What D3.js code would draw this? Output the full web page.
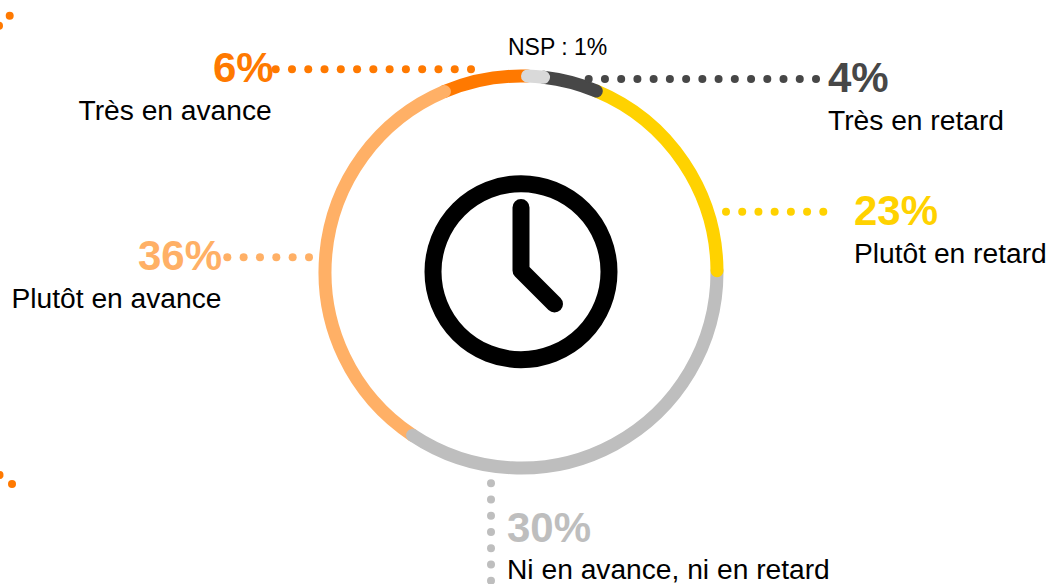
<!DOCTYPE html>
<html><head><meta charset="utf-8">
<script src="https://cdn.jsdelivr.net/npm/d3@7/dist/d3.min.js"></script>
<style>html,body{margin:0;padding:0;background:#fff;overflow:hidden}svg{display:block}text{font-family:"Liberation Sans",Arial,sans-serif}</style>
</head><body><svg id="c" width="1047" height="584"></svg>
<script>
const categories=["Très en avance","NSP","Très en retard","Plutôt en retard","Ni en avance, ni en retard","Plutôt en avance"];
const labelValues=[6,1,4,23,30,36];
const ringSpans=[24.9,4.7,16,67,124,123.4]; // ring span, degrees
const colors=["#FF7900","#D9D9D9","#474747","#FFD200","#BEBEBE","#FFB066"];
const drawOrder=[0,5,4,3,2,1];
const ringStart=-23;
const labelPos=[
 {vx:213,vy:82,lx:78.5,ly:120},null,
 {vx:828,vy:92,lx:828,ly:130},
 {vx:854,vy:225,lx:854,ly:263},
 {vx:507,vy:542,lx:507,ly:579},
 {vx:138,vy:270,lx:11.5,ly:308}];
const leaders=[
 {c:0,x0:275.7,y0:69.3,x1:471,y1:69.3,n:13},
 {c:2,x0:588.7,y0:79,x1:816,y1:79,n:15},
 {c:3,x0:726,y0:211.7,x1:823.3,y1:211.7,n:7},
 {c:5,x0:227.3,y0:257.3,x1:309,y1:257.3,n:6},
 {c:4,x0:491,y0:483.3,x1:491,y1:580.7,n:7}];
const strayDots=[[9.7,15.7],[-1,25.7],[12,484],[-0.5,475]];
const svg=d3.select("#c");
const cx=521,cy=272,r=196,w=13;
const angle=d3.scaleLinear().domain([0,360]).range([0,2*Math.PI]);
const cum=d3.cumsum(ringSpans);
const ring=svg.append("g").attr("transform",`translate(${cx},${cy})`);
drawOrder.forEach(i=>{
 const a0=angle(ringStart+(i?cum[i-1]:0))-Math.PI/2,a1=angle(ringStart+cum[i])-Math.PI/2;
 const p=d3.path();p.arc(0,0,r,a0,a1);
 ring.append("path").attr("d",p.toString()).attr("fill","none").attr("stroke",colors[i]).attr("stroke-width",w).attr("stroke-linecap","round");
});
leaders.forEach(l=>{
 const sx=d3.scaleLinear().domain([0,l.n-1]).range([l.x0,l.x1]),sy=d3.scaleLinear().domain([0,l.n-1]).range([l.y0,l.y1]);
 svg.append("g").selectAll("circle").data(d3.range(l.n)).join("circle").attr("cx",sx).attr("cy",sy).attr("r",4).attr("fill",colors[l.c]);
});
svg.append("g").selectAll("circle").data(strayDots).join("circle").attr("cx",d=>d[0]).attr("cy",d=>d[1]).attr("r",4).attr("fill",colors[0]);
const clock=svg.append("g").attr("fill","none").attr("stroke","#000").attr("stroke-width",17);
clock.append("circle").attr("cx",521).attr("cy",271.7).attr("r",88);
clock.append("path").attr("d",d3.line()([[521,207.5],[521,270.5],[554.5,304]])).attr("stroke-linecap","round").attr("stroke-linejoin","round");
categories.forEach((c,i)=>{
 const p=labelPos[i]; if(!p) return;
 svg.append("text").attr("x",p.vx).attr("y",p.vy).attr("font-size",42).attr("font-weight",700).attr("fill",colors[i]).text(labelValues[i]+"%");
 svg.append("text").attr("x",p.lx).attr("y",p.ly).attr("font-size",28.2).attr("fill","#000").text(c);
});
svg.append("text").attr("x",508).attr("y",55).attr("font-size",23).attr("fill","#000").text("NSP : "+labelValues[1]+"%");
</script></body></html>
